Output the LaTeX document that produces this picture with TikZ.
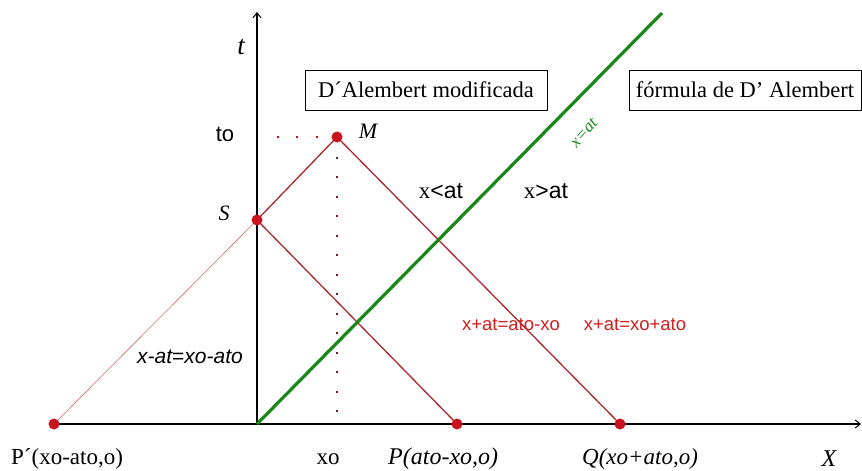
\documentclass[tikz,border=0pt]{standalone}
\usepackage{fontspec}
\setmainfont{Liberation Serif}
\setsansfont{Liberation Sans}
\usetikzlibrary{arrows.meta}
\definecolor{dotred}{RGB}{200,20,30}
\definecolor{linered}{RGB}{170,40,45}
\definecolor{labred}{RGB}{210,30,30}
\definecolor{grn}{RGB}{25,135,25}
\definecolor{lightred}{RGB}{205,110,110}
\begin{document}
\begin{tikzpicture}[x=1pt,y=-1pt,
  dot/.style={circle,fill=dotred,inner sep=0pt,minimum size=11pt},
  axis/.style={line width=1.2pt,-{Straight Barb[length=5pt,width=8pt,line width=1pt]}},
  redline/.style={draw=linered,line width=1.3pt},
  faintline/.style={draw=lightred,line width=0.6pt},
  greenline/.style={draw=grn,line width=3.2pt},
  dotline/.style={line width=2pt,dash pattern=on 2pt off 17.5pt},
  titlebox/.style={draw,line width=1pt,inner sep=0pt,font=\fontsize{22.5}{26}\selectfont},
  sanslab/.style={font=\sffamily\fontsize{#1}{#1}\selectfont,inner sep=0pt},
  seriflab/.style={font=\fontsize{#1}{#1}\selectfont,inner sep=0pt},
  itlab/.style={font=\itshape\fontsize{#1}{#1}\selectfont,inner sep=0pt},
  redlab/.style={font=\sffamily\fontsize{18.5}{18.5}\selectfont,text=labred,inner sep=0pt}
]
\useasboundingbox (0,0) rectangle (862,471);
\fill[white] (0,0) rectangle (862,471);

% points
\coordinate (O) at (257,424);
\coordinate (Pp) at (54,424);
\coordinate (S) at (257,220);
\coordinate (M) at (337,137);
\coordinate (P) at (457,424);
\coordinate (Q) at (620,424);
\coordinate (xend) at (861,424);
\coordinate (tend) at (257,12);
\coordinate (gend) at (662,13);
\coordinate (xofoot) at (337,420);
\coordinate (tofoot) at (262,137);

% axes
\draw[axis] (Pp) -- (xend);
\draw[axis] (O) -- (tend);

% characteristic lines
\draw[faintline] (Pp) -- (S);
\draw[redline] (S) -- (M) -- (Q);
\draw[redline] (S) -- (P);
\draw[greenline] (O) -- (gend);

% dotted guides
\draw[dotline,draw=dotred] (M) -- (tofoot);
\draw[dotline,draw=linered!70!black] (M) -- (xofoot);

% dots
\node[dot] (Ppdot) at (Pp) {};
\node[dot] (Sdot) at (S) {};
\node[dot] (Mdot) at (M) {};
\node[dot] (Pdot) at (P) {};
\node[dot] (Qdot) at (Q) {};

% boxes
\node[titlebox,minimum width=242pt,minimum height=40pt] (box1) at (426,90) {D\textasciiacute Alembert modificada};
\node[titlebox,minimum width=232pt,minimum height=40pt] (box2) at (745,90) {fórmula de D' Alembert};

% labels
\node[itlab=27] (tlab) at (241,47) {t};
\node[sanslab=22] (tolab) at (225,134) {to};
\node[itlab=22] (Mlab) at (368,131) {M};
\node[itlab=22] (Slab) at (224,213) {S};
\node[inner sep=0pt,font=\fontsize{23}{23}\selectfont] (ltlab) at (441,191) {x\sffamily <at};
\node[inner sep=0pt,font=\fontsize{23}{23}\selectfont] (gtlab) at (546,191) {x\sffamily >at};
\node[inner sep=0pt,font=\itshape\fontsize{17}{17}\selectfont,text=grn,rotate=48] (xat) at (584,133) {x=at};
\node[inner sep=0pt,font=\sffamily\itshape\fontsize{21}{21}\selectfont] (leftlab) at (190,357) {x-at{\upshape=}xo-ato};
\node[redlab] (r1) at (511,325) {x+at=ato-xo};
\node[redlab] (r2) at (635,325) {x+at=xo+ato};
\node[seriflab=23,anchor=west] (pplab) at (11,459) {P\textasciiacute(xo-ato,o)};
\node[seriflab=23] (xolab) at (328,459) {xo};
\node[itlab=24,anchor=west] (plab) at (388,459) {P(ato-xo,o)};
\node[itlab=23,anchor=west] (qlab) at (582,459) {Q(xo+ato,o)};
\node[itlab=24] (Xlab) at (829,459) {X};
\end{tikzpicture}
\end{document}
